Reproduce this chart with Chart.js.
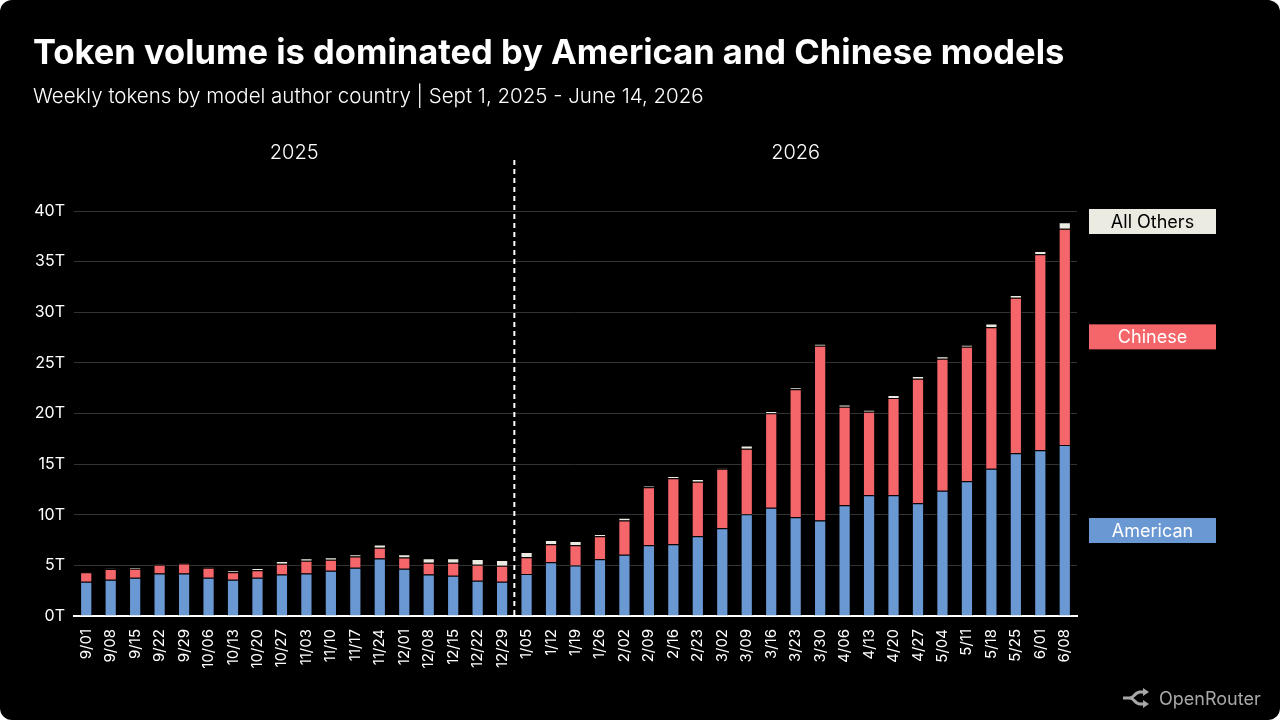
<!DOCTYPE html>
<html>
<head>
<meta charset="utf-8">
<script src="https://cdn.jsdelivr.net/npm/chart.js@4.4.1/dist/chart.umd.min.js"></script>
<style>
  html, body { margin:0; padding:0; background:#fff; }
  #frame { position:relative; width:1280px; height:720px; background:#000; border-radius:12px; overflow:hidden; font-family:Inter, sans-serif; }
  #title { position:absolute; left:33px; top:35px; font-size:34.5px; line-height:1; font-weight:700; color:#fff; white-space:nowrap; }
  #subtitle { position:absolute; left:33px; top:86px; font-size:20.5px; line-height:1; font-weight:300; color:#fff; white-space:nowrap; }
  #logo { position:absolute; left:1121px; top:686px; height:24px; display:flex; align-items:center; color:#a8a8a8; font-size:18px; }
  #logo svg { margin-right:10px; }
  canvas { position:absolute; left:0; top:0; }
</style>
</head>
<body>
<div id="frame">
  <canvas id="tokens" width="1280" height="720"></canvas>
  <div id="title">Token volume is dominated by American and Chinese models</div>
  <div id="subtitle">Weekly tokens by model author country | Sept 1, 2025 - June 14, 2026</div>
  <div id="logo">
    <svg width="28" height="20" viewBox="0 0 28 20">
      <path d="M2 10 L9 10 C13 10 14 4 19 4 L24 4" stroke="#a8a8a8" stroke-width="3" fill="none"/>
      <path d="M9 10 C13 10 14 16 19 16 L24 16" stroke="#a8a8a8" stroke-width="3" fill="none"/>
      <path d="M22 0 L28 4 L22 8 Z" fill="#a8a8a8"/>
      <path d="M22 12 L28 16 L22 20 Z" fill="#a8a8a8"/>
    </svg>
    <span>OpenRouter</span>
  </div>
</div>
<script>
// weekly buckets, trillions of tokens
const weeks = ['9/01','9/08','9/15','9/22','9/29','10/06','10/13','10/20','10/27','11/03','11/10','11/17','11/24','12/01','12/08','12/15','12/22','12/29',
  '1/05','1/12','1/19','1/26','2/02','2/09','2/16','2/23','3/02','3/09','3/16','3/23','3/30','4/06','4/13','4/20','4/27','5/04','5/11','5/18','5/25','6/01','6/08'];
const years = ['2025', '2026'];
const firstWeekOf2026 = 18;

const american = [3.38,3.58,3.78,4.2,4.2,3.78,3.58,3.78,4.1,4.2,4.46,4.76,5.68,4.66,4.1,3.97,3.48,3.38,
  4.15,5.3,5.0,5.6,6.06,6.98,7.08,7.87,8.66,10.05,10.68,9.75,9.42,10.93,11.92,11.92,11.13,12.38,13.3,14.55,16.07,16.36,16.89];
const chinese = [0.95,1.05,0.88,0.86,0.99,0.98,0.75,0.75,1.06,1.25,1.09,1.12,1.05,1.12,1.15,1.28,1.58,1.58,
  1.65,1.78,1.98,2.27,3.36,5.73,6.52,5.4,5.89,6.48,9.34,12.64,17.28,9.74,8.26,9.61,12.31,13.03,13.3,13.96,15.37,19.36,21.36];
const others = [0.05,0.05,0.17,0.05,0.05,0.05,0.2,0.2,0.26,0.26,0.26,0.23,0.33,0.33,0.46,0.46,0.56,0.56,
  0.52,0.42,0.43,0.23,0.29,0.16,0.23,0.27,0.05,0.3,0.23,0.19,0.16,0.23,0.17,0.3,0.26,0.24,0.17,0.39,0.26,0.33,0.63];

const yTicks = [0,5,10,15,20,25,30,35,40];

const BLUE = '#6a98d3';
const RED = '#f5666a';
const CREAM = '#ecebe1';

Chart.defaults.font.family = 'Inter';
Chart.defaults.color = '#fff';

// year headers, the dashed divider and the end-of-series tags
const overlay = {
  id: 'overlay',
  afterDatasetsDraw(chart) {
    const ctx = chart.ctx;
    const x = chart.scales.x, y = chart.scales.y;
    const area = chart.chartArea;
    const splitX = (x.getPixelForValue(firstWeekOf2026 - 1) + x.getPixelForValue(firstWeekOf2026)) / 2;

    ctx.save();
    ctx.strokeStyle = '#fff';
    ctx.lineWidth = 2;
    ctx.setLineDash([5, 4]);
    ctx.beginPath();
    ctx.moveTo(splitX, area.top - 51);
    ctx.lineTo(splitX, area.bottom);
    ctx.stroke();
    ctx.setLineDash([]);

    ctx.font = '300 20px Inter';
    ctx.fillStyle = '#fff';
    ctx.textAlign = 'center';
    ctx.textBaseline = 'middle';
    const mid25 = (x.getPixelForValue(0) + x.getPixelForValue(firstWeekOf2026 - 1)) / 2;
    const mid26 = (x.getPixelForValue(firstWeekOf2026) + x.getPixelForValue(weeks.length - 1)) / 2;
    ctx.fillText(years[0], mid25, area.top - 58);
    ctx.fillText(years[1], mid26, area.top - 58);

    // tags next to the last bar, top one pinned to the top gridline
    const last = weeks.length - 1;
    const n = chart.data.datasets.length;
    let base = 0;
    ctx.font = '18px Inter';
    chart.data.datasets.forEach(function(ds, i) {
      const v = ds.data[last];
      let cy = y.getPixelForValue(base + v / 2);
      base += v;
      if (i === n - 1) cy = area.top + 10.5;
      ctx.fillStyle = ds.backgroundColor;
      ctx.fillRect(area.right + 12, cy - 12.5, 127, 25);
      ctx.fillStyle = ds.tagText;
      ctx.fillText(ds.label, area.right + 12 + 63.5, cy + 1);
    });
    ctx.restore();
  }
};

new Chart(document.getElementById('tokens'), {
  type: 'bar',
  data: {
    labels: weeks,
    datasets: [
      { label: 'American', data: american, backgroundColor: BLUE, tagText: '#fff' },
      { label: 'Chinese', data: chinese, backgroundColor: RED, tagText: '#fff' },
      { label: 'All Others', data: others, backgroundColor: CREAM, tagText: '#000' }
    ]
  },
  options: {
    responsive: false,
    animation: false,
    layout: { padding: { top: 211, right: 203, left: 0, bottom: 0 } },
    datasets: {
      bar: { categoryPercentage: 1, barPercentage: 0.5, borderWidth: 1, borderColor: 'rgba(0,0,0,0.75)' }
    },
    plugins: { legend: { display: false }, tooltip: { enabled: false } },
    scales: {
      x: {
        stacked: true,
        grid: { display: false },
        border: { color: '#fff', width: 2 },
        ticks: { color: '#fff', font: { size: 15 }, minRotation: 90, maxRotation: 90, autoSkip: false, padding: 5 },
        afterFit: function(s) { s.height = 104; }
      },
      y: {
        stacked: true,
        min: 0,
        max: 40,
        afterBuildTicks: function(s) { s.ticks = yTicks.map(function(v) { return { value: v }; }); },
        grid: { color: '#333', lineWidth: 1, drawTicks: false },
        border: { display: false },
        ticks: { color: '#fff', font: { size: 16 }, padding: 9, callback: function(v) { return v + 'T'; } },
        afterFit: function(s) { s.width = 74; }
      }
    }
  },
  plugins: [overlay]
});
</script>
</body>
</html>
